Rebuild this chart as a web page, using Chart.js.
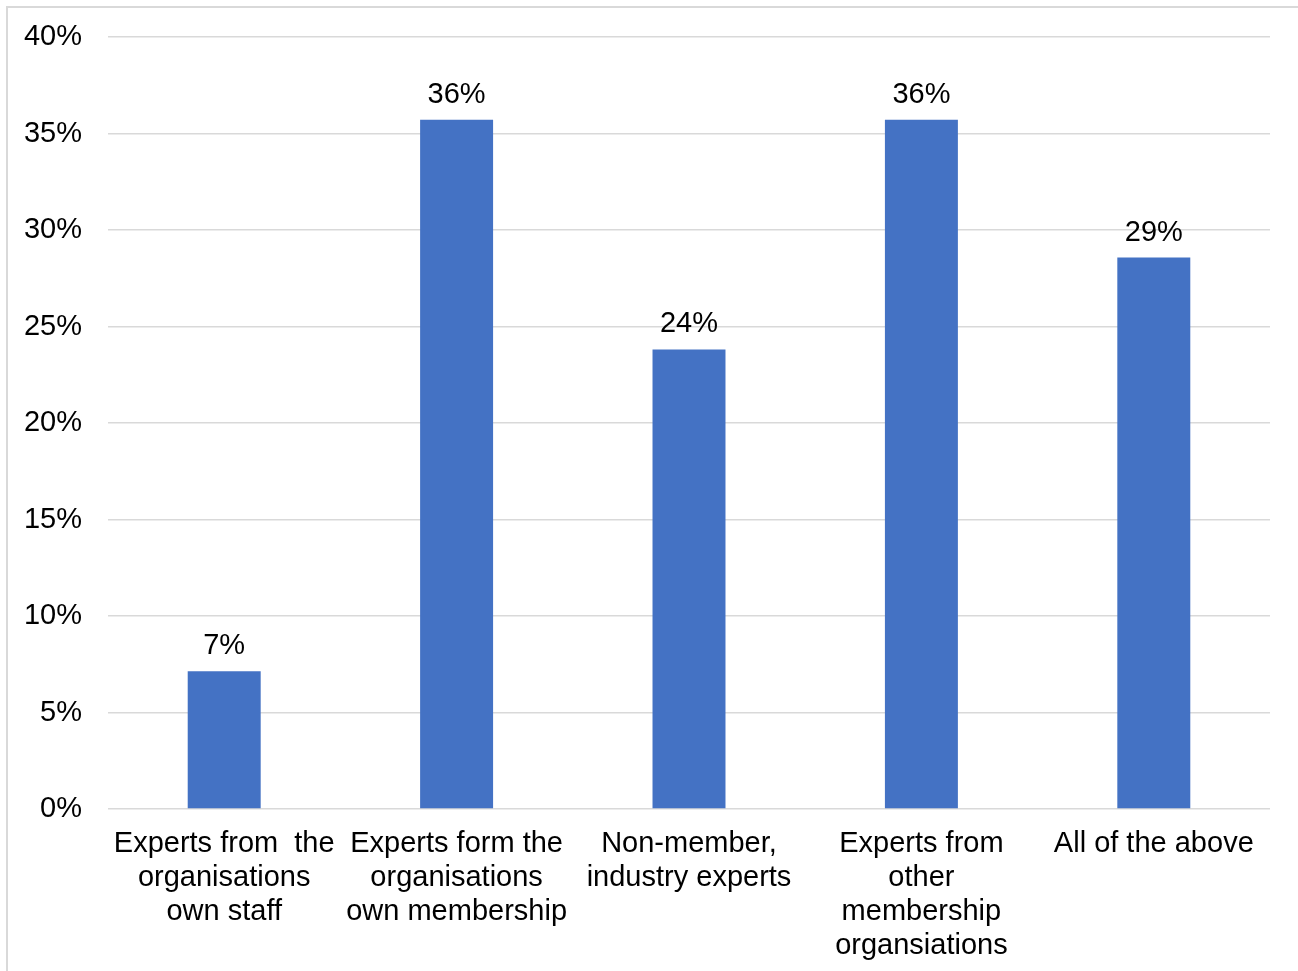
<!DOCTYPE html>
<html>
<head>
<meta charset="utf-8">
<script src="https://cdn.jsdelivr.net/npm/chart.js@4.4.1/dist/chart.umd.min.js"></script>
<style>
  html, body { margin: 0; padding: 0; background: #fff; overflow: hidden; }
  #frame {
    position: absolute; left: 6px; top: 6px;
    width: 1400px; height: 1100px;
    border: 2px solid #d9d9d9;
  }
  #wrap { position: absolute; left: 0; top: 0; width: 1298px; height: 971px; }
</style>
</head>
<body>
<div id="frame"></div>
<div id="wrap"><canvas id="chart"></canvas></div>
<script>
const categories = [
  ['Experts from  the', 'organisations', 'own staff'],
  ['Experts form the', 'organisations', 'own membership'],
  ['Non-member,', 'industry experts'],
  ['Experts from', 'other', 'membership', 'organsiations'],
  ['All of the above']
];
const shares = [7.14, 35.71, 23.81, 35.71, 28.57];
const yTicks = [0, 5, 10, 15, 20, 25, 30, 35, 40];

const FONT = { family: '"Liberation Sans", Arial, sans-serif', size: 29, lineHeight: 1.17 };

// writes the rounded percentage above every bar
const barValues = {
  id: 'barValues',
  afterDatasetsDraw(chart) {
    const ctx = chart.ctx;
    const meta = chart.getDatasetMeta(0);
    ctx.save();
    ctx.font = FONT.size + 'px ' + FONT.family;
    ctx.fillStyle = '#000';
    ctx.textAlign = 'center';
    ctx.textBaseline = 'alphabetic';
    meta.data.forEach((bar, i) => {
      ctx.fillText(Math.round(shares[i]) + '%', bar.x, bar.y - 17);
    });
    ctx.restore();
  }
};

new Chart(document.getElementById('chart'), {
  type: 'bar',
  data: {
    labels: categories,
    datasets: [{
      data: shares,
      backgroundColor: '#4472C4',
      barPercentage: 0.314,
      categoryPercentage: 1
    }]
  },
  options: {
    responsive: true,
    maintainAspectRatio: false,
    animation: false,
    layout: { padding: { top: 37, right: 28, left: 0, bottom: 0 } },
    plugins: { legend: { display: false }, tooltip: { enabled: false } },
    scales: {
      x: {
        grid: { display: false },
        border: { display: false },
        ticks: { color: '#000', font: FONT, padding: 10, maxRotation: 0, autoSkip: false },
        afterFit(scale) { scale.height = 162; }
      },
      y: {
        min: 0,
        max: 40,
        afterBuildTicks(scale) { scale.ticks = yTicks.map(v => ({ value: v })); },
        grid: { color: '#d9d9d9', lineWidth: 1.5, drawTicks: false },
        border: { display: false },
        ticks: { color: '#000', font: FONT, padding: 26, callback: v => v + '%' },
        afterFit(scale) {
          scale.width = 108;
          scale.paddingTop = 0;
          scale.paddingBottom = 0;
        }
      }
    }
  },
  plugins: [barValues]
});
</script>
</body>
</html>
